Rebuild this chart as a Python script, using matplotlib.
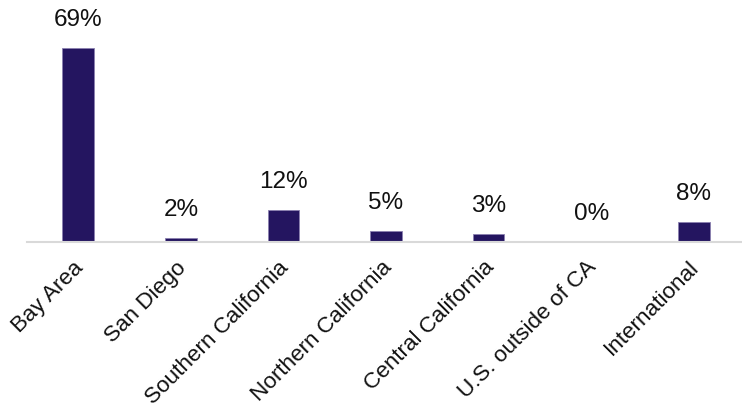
import matplotlib
matplotlib.use("Agg")
import matplotlib.pyplot as plt
from matplotlib.transforms import offset_copy, ScaledTranslation

categories = ["Bay Area", "San Diego", "Southern California", "Northern California",
              "Central California", "U.S. outside of CA", "International"]
values = [69.0, 1.6, 11.4, 3.8, 2.95, 0.0, 7.1]
labels = ["69%", "2%", "12%", "5%", "3%", "0%", "8%"]

plt.rcParams['font.family'] = ['Liberation Sans', 'DejaVu Sans']

fig = plt.figure(figsize=(7.42, 4.11), dpi=100)
ax = fig.add_axes([27/742, 1 - 242/411, 718/742, 242/411])

x = list(range(len(categories)))
ax.bar(x, values, width=0.31, color="#241560", edgecolor="#8a80b0", linewidth=0.6)
ax.set_xlim(-0.5, len(categories) - 0.5)
ax.set_ylim(0, 242 / 2.81)

trans = offset_copy(ax.transData, fig=fig, x=0, y=17, units='dots')
for xi, v, lab in zip(x, values, labels):
    ax.text(xi, v, lab, transform=trans, ha='center', va='bottom', fontsize=17.5, color='#111111')

ax.set_xticks(x)
ax.set_xticklabels(categories, rotation=45, ha='right', va='top', rotation_mode='anchor',
                   fontsize=16.2, color='#111111')
ax.tick_params(axis='x', length=0, pad=13)
shift = ScaledTranslation(-5/100, 3/100, fig.dpi_scale_trans)
for t in ax.get_xticklabels():
    t.set_transform(t.get_transform() + shift)
ax.set_yticks([])
for s in ['left', 'right', 'top']:
    ax.spines[s].set_visible(False)
ax.spines['bottom'].set_color('#d9d9d9')
ax.spines['bottom'].set_linewidth(1.5)

fig.savefig("out.png", dpi=100)
